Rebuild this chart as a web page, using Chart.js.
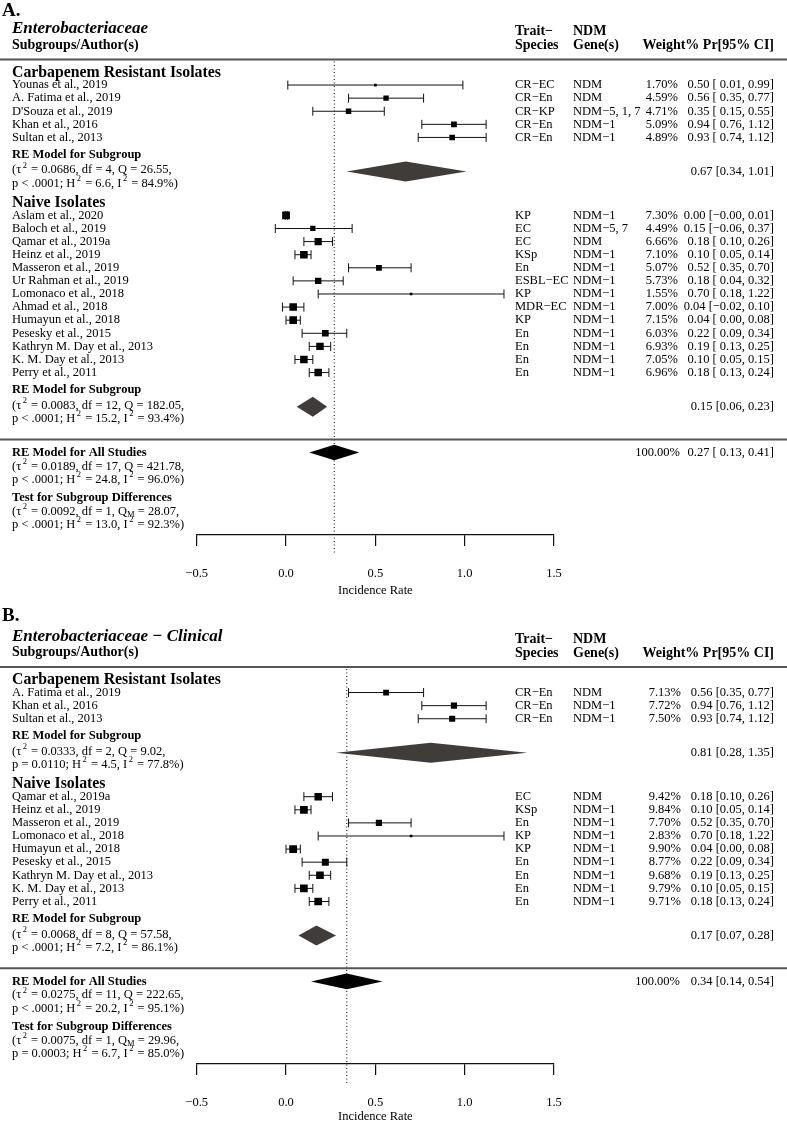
<!DOCTYPE html>
<html>
<head>
<meta charset="utf-8">
<script src="https://cdn.jsdelivr.net/npm/chart.js@4.4.0/dist/chart.umd.min.js"></script>
<style>
  html, body { margin: 0; padding: 0; background: #fff; }
  body { width: 787px; height: 1124px; position: relative; overflow: hidden; }
  canvas { position: absolute; left: 0; }
  #chartA { top: 0; }
  #chartB { top: 604px; }
</style>
</head>
<body>
<canvas id="chartA" width="787" height="600"></canvas>
<canvas id="chartB" width="787" height="520"></canvas>
<script>
// ---- Panel A: Enterobacteriaceae ----
var aCrAuthors = ['Younas et al., 2019', 'A. Fatima et al., 2019', "D'Souza et al., 2019", 'Khan et al., 2016', 'Sultan et al., 2013'];
var aCrTrait = ['CR\u2212EC', 'CR\u2212En', 'CR\u2212KP', 'CR\u2212En', 'CR\u2212En'];
var aCrGene = ['NDM', 'NDM', 'NDM\u22125, 1, 7', 'NDM\u22121', 'NDM\u22121'];
var aCrWeight = [1.70, 4.59, 4.71, 5.09, 4.89];
var aCrEst = [0.50, 0.56, 0.35, 0.94, 0.93];
var aCrLow = [0.01, 0.35, 0.15, 0.76, 0.74];
var aCrHigh = [0.99, 0.77, 0.55, 1.12, 1.12];
var aCrSummary = [0.67, 0.34, 1.01];
var aCrStats = [0.0686, 4, 26.55, '< .0001', 6.6, 84.9];

var aNvAuthors = ['Aslam et al., 2020', 'Baloch et al., 2019', 'Qamar et al., 2019a', 'Heinz et al., 2019', 'Masseron et al., 2019',
  'Ur Rahman et al., 2019', 'Lomonaco et al., 2018', 'Ahmad et al., 2018', 'Humayun et al., 2018', 'Pesesky et al., 2015',
  'Kathryn M. Day et al., 2013', 'K. M. Day et al., 2013', 'Perry et al., 2011'];
var aNvTrait = ['KP', 'EC', 'EC', 'KSp', 'En', 'ESBL\u2212EC', 'KP', 'MDR\u2212EC', 'KP', 'En', 'En', 'En', 'En'];
var aNvGene = ['NDM\u22121', 'NDM\u22125, 7', 'NDM', 'NDM\u22121', 'NDM\u22121', 'NDM\u22121', 'NDM\u22121', 'NDM\u22121', 'NDM\u22121', 'NDM\u22121', 'NDM\u22121', 'NDM\u22121', 'NDM\u22121'];
var aNvWeight = [7.30, 4.49, 6.66, 7.10, 5.07, 5.73, 1.55, 7.00, 7.15, 6.03, 6.93, 7.05, 6.96];
var aNvEst = [0.00, 0.15, 0.18, 0.10, 0.52, 0.18, 0.70, 0.04, 0.04, 0.22, 0.19, 0.10, 0.18];
var aNvLow = [-0.004, -0.06, 0.10, 0.05, 0.35, 0.04, 0.18, -0.02, 0.00, 0.09, 0.13, 0.05, 0.13];
var aNvHigh = [0.01, 0.37, 0.26, 0.14, 0.70, 0.32, 1.22, 0.10, 0.08, 0.34, 0.25, 0.15, 0.24];
var aNvSummary = [0.15, 0.06, 0.23];
var aNvStats = [0.0083, 12, 182.05, '< .0001', 15.2, 93.4];

var aAllSummary = [0.27, 0.13, 0.41];
var aAllStats = [0.0189, 17, 421.78, '< .0001', 24.8, 96.0];
var aTestStats = [0.0092, 1, 28.07, '< .0001', 13.0, 92.3];

// ---- Panel B: Enterobacteriaceae - Clinical ----
var bCrAuthors = ['A. Fatima et al., 2019', 'Khan et al., 2016', 'Sultan et al., 2013'];
var bCrTrait = ['CR\u2212En', 'CR\u2212En', 'CR\u2212En'];
var bCrGene = ['NDM', 'NDM\u22121', 'NDM\u22121'];
var bCrWeight = [7.13, 7.72, 7.50];
var bCrEst = [0.56, 0.94, 0.93];
var bCrLow = [0.35, 0.76, 0.74];
var bCrHigh = [0.77, 1.12, 1.12];
var bCrSummary = [0.81, 0.28, 1.35];
var bCrStats = [0.0333, 2, 9.02, '= 0.0110', 4.5, 77.8];

var bNvAuthors = ['Qamar et al., 2019a', 'Heinz et al., 2019', 'Masseron et al., 2019', 'Lomonaco et al., 2018', 'Humayun et al., 2018',
  'Pesesky et al., 2015', 'Kathryn M. Day et al., 2013', 'K. M. Day et al., 2013', 'Perry et al., 2011'];
var bNvTrait = ['EC', 'KSp', 'En', 'KP', 'KP', 'En', 'En', 'En', 'En'];
var bNvGene = ['NDM', 'NDM\u22121', 'NDM\u22121', 'NDM\u22121', 'NDM\u22121', 'NDM\u22121', 'NDM\u22121', 'NDM\u22121', 'NDM\u22121'];
var bNvWeight = [9.42, 9.84, 7.70, 2.83, 9.90, 8.77, 9.68, 9.79, 9.71];
var bNvEst = [0.18, 0.10, 0.52, 0.70, 0.04, 0.22, 0.19, 0.10, 0.18];
var bNvLow = [0.10, 0.05, 0.35, 0.18, 0.00, 0.09, 0.13, 0.05, 0.13];
var bNvHigh = [0.26, 0.14, 0.70, 1.22, 0.08, 0.34, 0.25, 0.15, 0.24];
var bNvSummary = [0.17, 0.07, 0.28];
var bNvStats = [0.0068, 8, 57.58, '< .0001', 7.2, 86.1];

var bAllSummary = [0.34, 0.14, 0.54];
var bAllStats = [0.0275, 11, 222.65, '< .0001', 20.2, 95.1];
var bTestStats = [0.0075, 1, 29.96, '= 0.0003', 6.7, 85.0];

var xTicks = [-0.5, 0, 0.5, 1.0, 1.5];

// ---- drawing helpers ----
var FONT = '"Liberation Serif", "Times New Roman", serif';
var UNIT = 13.1;
Chart.defaults.font.family = FONT;
Chart.defaults.color = '#000';

function num(v) { return v.toFixed(2).replace('-', '\u2212'); }
function ciText(s, pad) {
  var lo = num(s[1]);
  if (pad && s[1] >= 0) lo = ' ' + lo;
  return num(s[0]) + ' [' + lo + ', ' + num(s[2]) + ']';
}

function statLines(st, test) {
  var q = test ? [['Q', ''], ['M', 'sub']] : [['Q', '']];
  var l1 = [['(\u03c4', ''], ['2', 'sup'], [' = ' + st[0].toFixed(4) + ', df = ' + st[1] + ', ', '']]
    .concat(q).concat([[' = ' + st[2].toFixed(2) + ',', '']]);
  var l2 = [['p ' + st[3] + '; H', ''], ['2', 'sup'], [' = ' + st[4].toFixed(1) + ', I', ''], ['2', 'sup'],
    [' = ' + st[5].toFixed(1) + '%)', '']];
  return [l1, l2];
}

function richText(ctx, x, y, parts, size) {
  parts.forEach(function (p) {
    var s = p[1] ? size * 0.68 : size;
    ctx.font = s + 'px ' + FONT;
    var dy = p[1] === 'sup' ? -size * 0.38 : (p[1] === 'sub' ? size * 0.28 : 0);
    if (p[1] === 'sup') x += 1.5;
    ctx.fillText(p[0], x, y + dy);
    x += ctx.measureText(p[0]).width + (p[1] === 'sup' ? 1 : 0);
  });
}

function layoutPanel(groups) {
  var r = 1.0, out = { titles: [], studies: [], subs: [] };
  groups.forEach(function (g, gi) {
    if (gi > 0) r += 1.5;
    out.titles.push({ text: g.title, row: r });
    var first = r + 0.95;
    g.authors.forEach(function (a, i) { out.studies.push({ g: g, i: i, row: first + i }); });
    var lab = first + g.authors.length - 1 + 1.3;
    out.subs.push({ g: g, row: lab, diamond: lab + 1.3, stats: [lab + 1.2, lab + 2.2] });
    r = lab + 2.2;
  });
  out.sep = r + 1.6;
  out.all = out.sep + 1.0;
  out.allStats = [out.all + 1.05, out.all + 2.05];
  out.test = out.all + 3.45;
  out.testStats = [out.test + 1.05, out.test + 2.05];
  out.yMax = out.test + 2.85;
  return out;
}

function makeForest(canvasId, p) {
  var L = layoutPanel(p.groups);
  var canvas = document.getElementById(canvasId);
  var plotH = L.yMax * UNIT;
  var axisH = canvas.height - p.top - plotH;

  var weights = [];
  L.studies.forEach(function (s) { weights.push(s.g.weight[s.i]); });
  var wMin = Math.min.apply(null, weights), wMax = Math.max.apply(null, weights);
  var side = function (w) { return 7.8 * (0.5 + (w - wMin) / (wMax - wMin)) / 1.5; };

  var datasets = [{
    data: L.studies.map(function (s) { return { x: s.g.est[s.i], y: s.row }; }),
    pointStyle: 'rect',
    pointRadius: L.studies.map(function (s) { return side(s.g.weight[s.i]) / Math.SQRT2; }),
    pointHoverRadius: L.studies.map(function (s) { return side(s.g.weight[s.i]) / Math.SQRT2; }),
    backgroundColor: '#000',
    borderWidth: 0
  }];
  L.studies.forEach(function (s) {
    datasets.push({
      data: [{ x: s.g.low[s.i], y: s.row }, { x: s.g.high[s.i], y: s.row }],
      showLine: true,
      borderColor: '#111',
      borderWidth: 1,
      pointStyle: 'line',
      pointRotation: 90,
      pointRadius: 4.5,
      pointHoverRadius: 4.5,
      pointBorderColor: '#111',
      pointBorderWidth: 1
    });
  });

  var diamonds = L.subs.map(function (sb) { return { s: sb.g.summary, row: sb.diamond, h: 10, color: '#403c39' }; });
  diamonds.push({ s: p.allSummary, row: L.all, h: 7.8, color: '#000' });

  var forestPlugin = {
    id: 'forest' + canvasId,
    beforeDatasetsDraw: function (chart) {
      var ctx = chart.ctx, xs = chart.scales.x, a = chart.chartArea;
      var x = xs.getPixelForValue(p.allSummary[0]);
      ctx.save();
      ctx.strokeStyle = '#000';
      ctx.lineWidth = 1;
      ctx.setLineDash([1, 2.5]);
      ctx.beginPath();
      ctx.moveTo(x, a.top + 2);
      ctx.lineTo(x, a.bottom + 19);
      ctx.stroke();
      ctx.restore();
    },
    afterDatasetsDraw: function (chart) {
      var ctx = chart.ctx, xs = chart.scales.x, ys = chart.scales.y;
      ctx.save();
      diamonds.forEach(function (d) {
        var y = ys.getPixelForValue(d.row);
        ctx.fillStyle = d.color;
        ctx.beginPath();
        ctx.moveTo(xs.getPixelForValue(d.s[1]), y);
        ctx.lineTo(xs.getPixelForValue(d.s[0]), y - d.h);
        ctx.lineTo(xs.getPixelForValue(d.s[2]), y);
        ctx.lineTo(xs.getPixelForValue(d.s[0]), y + d.h);
        ctx.closePath();
        ctx.fill();
      });
      ctx.restore();
    },
    afterDraw: function (chart) {
      var ctx = chart.ctx, ys = chart.scales.y, a = chart.chartArea, W = chart.width;
      var Y = function (r) { return ys.getPixelForValue(r); };
      ctx.save();
      // separator lines
      ctx.strokeStyle = '#555';
      ctx.lineWidth = 2;
      [a.top, Y(L.sep)].forEach(function (y) {
        ctx.beginPath(); ctx.moveTo(0, y); ctx.lineTo(W, y); ctx.stroke();
      });
      ctx.fillStyle = '#000';
      ctx.textBaseline = 'middle';
      ctx.textAlign = 'left';
      // headers
      ctx.font = 'bold 19px ' + FONT;
      ctx.fillText(p.label, 2, a.top - p.labelOffset);
      ctx.font = 'italic bold 17px ' + FONT;
      ctx.fillText(p.title, 12, a.top - 30.5);
      ctx.font = 'bold 14px ' + FONT;
      ctx.fillText('Subgroups/Author(s)', 12, a.top - 14.5);
      ctx.fillText('Trait\u2212', 515, a.top - 28);
      ctx.fillText('Species', 515, a.top - 14);
      ctx.fillText('NDM', 573, a.top - 28);
      ctx.fillText('Gene(s)', 573, a.top - 14);
      ctx.textAlign = 'right';
      ctx.fillText('Weight% Pr[95% CI]', 774, a.top - 14);
      ctx.textAlign = 'left';
      // group titles
      ctx.font = 'bold 15.8px ' + FONT;
      L.titles.forEach(function (t) { ctx.fillText(t.text, 12, Y(t.row)); });
      // studies
      ctx.font = '12.5px ' + FONT;
      L.studies.forEach(function (s) {
        var g = s.g, i = s.i, y = Y(s.row);
        ctx.textAlign = 'left';
        ctx.fillText(g.authors[i], 12, y);
        ctx.fillText(g.trait[i], 515, y);
        ctx.fillText(g.gene[i], 573, y);
        ctx.textAlign = 'right';
        ctx.fillText(g.weight[i].toFixed(2) + '%', p.weightRight, y);
        ctx.fillText(ciText([g.est[i], g.low[i], g.high[i]], p.pad), 774, y);
      });
      // subgroup summaries
      L.subs.forEach(function (sb) {
        ctx.textAlign = 'left';
        ctx.font = 'bold 12.5px ' + FONT;
        ctx.fillText('RE Model for Subgroup', 12, Y(sb.row));
        var lines = statLines(sb.g.stats, false);
        richText(ctx, 12, Y(sb.stats[0]), lines[0], 12.5);
        richText(ctx, 12, Y(sb.stats[1]), lines[1], 12.5);
        ctx.font = '12.5px ' + FONT;
        ctx.textAlign = 'right';
        ctx.fillText(ciText(sb.g.summary, false), 774, Y(sb.diamond));
      });
      // overall
      ctx.textAlign = 'left';
      ctx.font = 'bold 12.5px ' + FONT;
      ctx.fillText('RE Model for All Studies', 12, Y(L.all));
      ctx.fillText('Test for Subgroup Differences', 12, Y(L.test));
      var al = statLines(p.allStats, false), tl = statLines(p.testStats, true);
      richText(ctx, 12, Y(L.allStats[0]), al[0], 12.5);
      richText(ctx, 12, Y(L.allStats[1]), al[1], 12.5);
      richText(ctx, 12, Y(L.testStats[0]), tl[0], 12.5);
      richText(ctx, 12, Y(L.testStats[1]), tl[1], 12.5);
      ctx.font = '12.5px ' + FONT;
      ctx.textAlign = 'right';
      ctx.fillText('100.00%', 680, Y(L.all));
      ctx.fillText(ciText(p.allSummary, p.pad), 774, Y(L.all));
      ctx.restore();
    }
  };

  return new Chart(canvas, {
    type: 'scatter',
    data: { datasets: datasets },
    options: {
      responsive: false,
      animation: false,
      events: [],
      layout: { padding: { left: 196.7, right: 233, top: p.top, bottom: 0 } },
      plugins: { legend: { display: false }, tooltip: { enabled: false } },
      scales: {
        x: {
          type: 'linear', min: -0.5, max: 1.5,
          afterBuildTicks: function (s) { s.ticks = xTicks.map(function (v) { return { value: v }; }); },
          afterFit: function (s) { s.height = axisH; },
          grid: { drawOnChartArea: false, drawTicks: true, tickLength: 11, color: '#111', lineWidth: 1.2 },
          border: { display: true, color: '#111', width: 1.2 },
          ticks: {
            padding: 20, color: '#000', font: { size: 12.5 }, maxRotation: 0, autoSkip: false,
            callback: function (v) { return Number(v).toFixed(1).replace('-', '\u2212'); }
          },
          title: { display: true, text: 'Incidence Rate', color: '#000', font: { size: 12.5 }, padding: { top: 0, bottom: p.titlePad } }
        },
        y: { type: 'linear', display: false, reverse: true, min: 0, max: L.yMax }
      }
    },
    plugins: [forestPlugin]
  });
}

makeForest('chartA', {
  label: 'A.', labelOffset: 48.5, title: 'Enterobacteriaceae', top: 59.5, pad: true, weightRight: 678, titlePad: 2,
  groups: [
    { title: 'Carbapenem Resistant Isolates', authors: aCrAuthors, trait: aCrTrait, gene: aCrGene, weight: aCrWeight,
      est: aCrEst, low: aCrLow, high: aCrHigh, summary: aCrSummary, stats: aCrStats },
    { title: 'Naive Isolates', authors: aNvAuthors, trait: aNvTrait, gene: aNvGene, weight: aNvWeight,
      est: aNvEst, low: aNvLow, high: aNvHigh, summary: aNvSummary, stats: aNvStats }
  ],
  allSummary: aAllSummary, allStats: aAllStats, testStats: aTestStats
});

makeForest('chartB', {
  label: 'B.', labelOffset: 50.5, title: 'Enterobacteriaceae \u2212 Clinical', top: 63, pad: false, weightRight: 681, titlePad: 0,
  groups: [
    { title: 'Carbapenem Resistant Isolates', authors: bCrAuthors, trait: bCrTrait, gene: bCrGene, weight: bCrWeight,
      est: bCrEst, low: bCrLow, high: bCrHigh, summary: bCrSummary, stats: bCrStats },
    { title: 'Naive Isolates', authors: bNvAuthors, trait: bNvTrait, gene: bNvGene, weight: bNvWeight,
      est: bNvEst, low: bNvLow, high: bNvHigh, summary: bNvSummary, stats: bNvStats }
  ],
  allSummary: bAllSummary, allStats: bAllStats, testStats: bTestStats
});
</script>
</body>
</html>
